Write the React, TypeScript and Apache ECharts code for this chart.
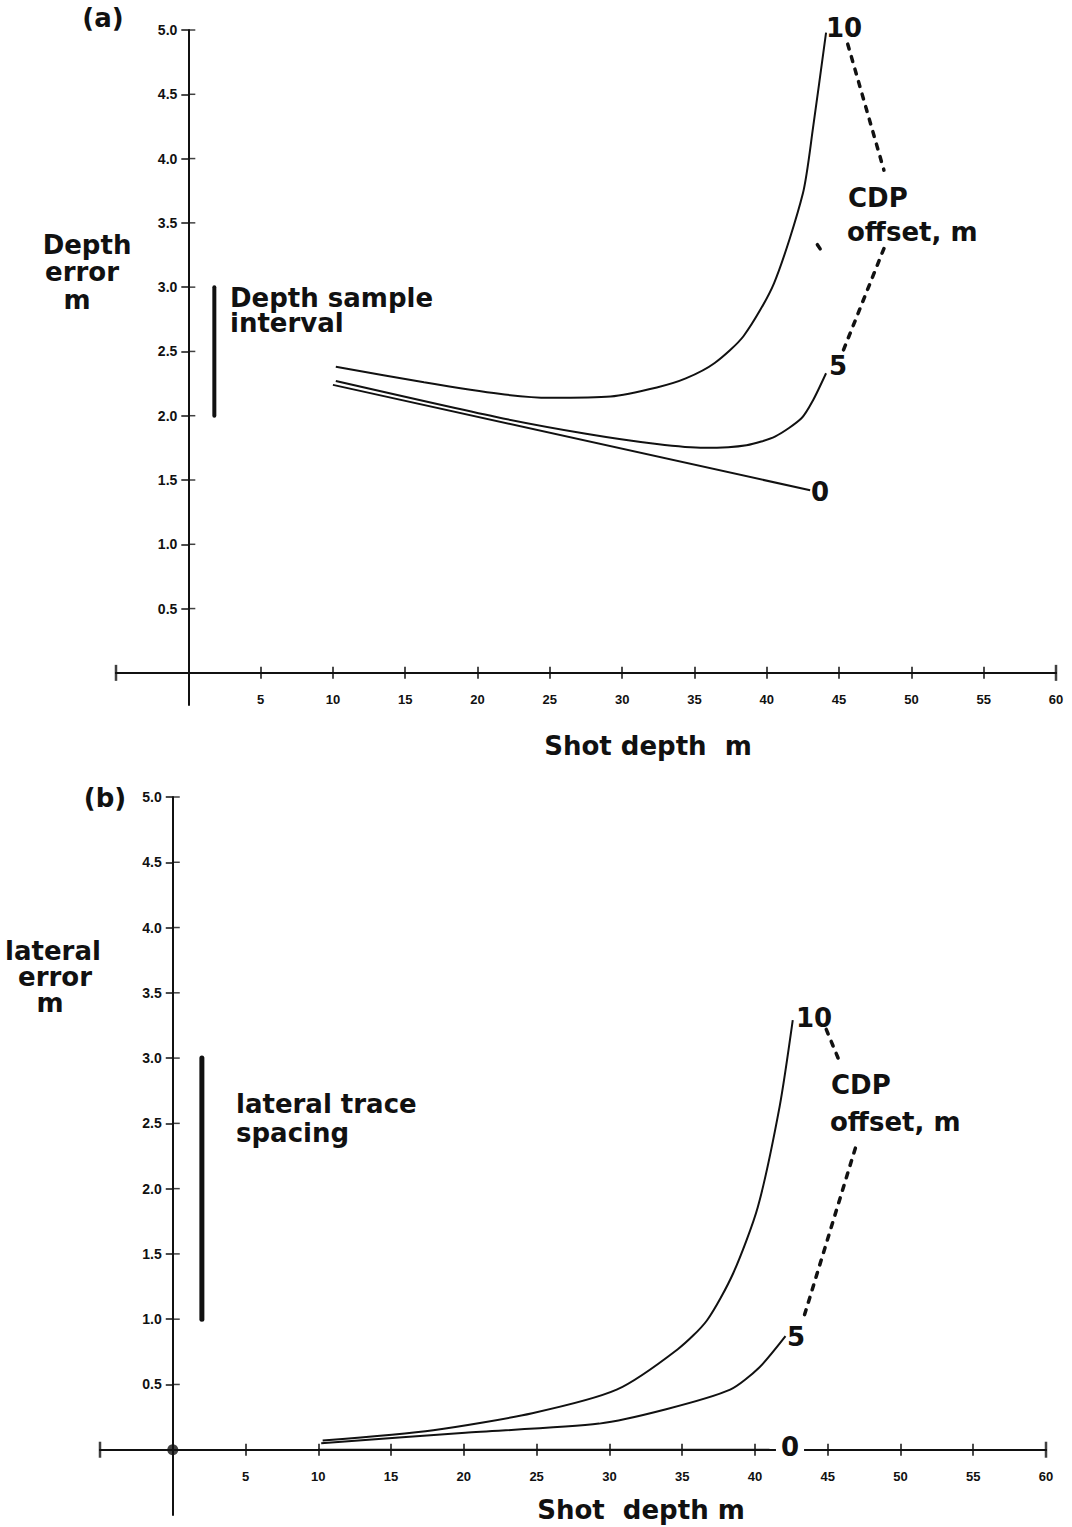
import React, { useEffect, useRef } from "react";
import * as echarts from "echarts";

// ---------- data ----------
const yTickValues = [0.5, 1, 1.5, 2, 2.5, 3, 3.5, 4, 4.5, 5];
const xLabelValues = [5, 10, 15, 20, 25, 30, 35, 40, 45, 50, 55, 60];
const xTickValues = [5, 10, 15, 20, 25, 30, 35, 40, 45, 50, 55];
const axisEnds = [-5, 60];

// panel (a): depth error vs shot depth, per CDP offset
const depthOff0: number[][] = [[10, 2.24], [43, 1.42]];
const depthOff5: number[][] = [
  [10.2, 2.27], [21.3, 1.99], [27.5, 1.86], [32.4, 1.78],
  [35.7, 1.75], [38.6, 1.77], [40.6, 1.84], [42.4, 1.98], [43.2, 2.12], [44.1, 2.33],
];
const depthOff10: number[][] = [
  [10.2, 2.38], [16.3, 2.26], [21.5, 2.17], [25, 2.14], [29.2, 2.15], [32.4, 2.22],
  [34.4, 2.29], [36.4, 2.41], [38.4, 2.62], [40.5, 3.03], [42.5, 3.73], [43.2, 4.24], [44.1, 4.98],
];
const depthDash1: number[][] = [[45.6, 4.89], [48.1, 3.91]];
const depthDash2: number[][] = [[48.1, 3.3], [45.3, 2.51]];
const depthDashBit: number[][] = [[43.5, 3.33], [43.8, 3.28]];
const depthSampleBar: number[][] = [[1.8, 2.0], [1.8, 3.0]];

// panel (b): lateral error vs shot depth, per CDP offset
const latOff0: number[][] = [[10, 0], [41, 0]];
const latOff5: number[][] = [
  [10.2, 0.05], [20.1, 0.13], [29.3, 0.2], [33.9, 0.31], [38.3, 0.46], [40.3, 0.63], [42.1, 0.87],
];
const latOff10: number[][] = [
  [10.3, 0.07], [17.9, 0.15], [24.7, 0.28], [30.5, 0.46], [34.7, 0.77], [36.7, 0.99],
  [38.5, 1.35], [40.2, 1.86], [41.7, 2.63], [42.6, 3.29],
];
const latDash1: number[][] = [[44.9, 3.22], [45.9, 2.95]];
const latDash2: number[][] = [[46.9, 2.31], [43.4, 1.03]];
const traceSpacingBar: number[][] = [[2.0, 1.0], [2.0, 3.0]];
const origin: number[][] = [[0, 0]];

const INK = "#111";
const FONT = "'Liberation Sans', Arial, sans-serif";
const BIG_FONT = "'DejaVu Sans', 'Liberation Sans', sans-serif";

// grid geometry (pixels)
const GA = { left: 116, width: 940, top: 30, height: 675, xMin: -5, xMax: 60, yMin: -0.25, yMax: 5 };
const GB = { left: 100, width: 946, top: 797, height: 718, xMin: -5, xMax: 60, yMin: -0.5, yMax: 5 };

function zeroOffsets(g: typeof GA) {
  const px0 = g.left + ((0 - g.xMin) / (g.xMax - g.xMin)) * g.width;
  const py0 = g.top + ((g.yMax - 0) / (g.yMax - g.yMin)) * g.height;
  return {
    left: -(px0 - g.left),
    top: -(py0 - g.top),
    bottom: -(g.top + g.height - py0),
  };
}

function xAxesFor(gridIndex: number, g: typeof GA) {
  const o = zeroOffsets(g);
  const base = {
    type: "value",
    gridIndex,
    min: g.xMin,
    max: g.xMax,
    splitLine: { show: false },
    axisLine: { show: true, onZero: false, lineStyle: { color: INK, width: 2 } },
    axisTick: { show: true, customValues: xTickValues, length: 6, lineStyle: { color: INK, width: 1.5 } },
  };
  return [
    {
      ...base,
      position: "bottom",
      offset: o.bottom,
      axisLabel: {
        show: true,
        customValues: xLabelValues,
        margin: 20,
        color: INK,
        fontSize: 13,
        fontWeight: "bold",
        fontFamily: FONT,
      },
    },
    {
      ...base,
      position: "top",
      offset: o.top,
      axisLabel: { show: false },
    },
  ];
}

function yAxisFor(gridIndex: number, g: typeof GA) {
  const o = zeroOffsets(g);
  return {
    type: "value",
    gridIndex,
    min: g.yMin,
    max: g.yMax,
    position: "left",
    offset: o.left,
    splitLine: { show: false },
    axisLine: { show: true, onZero: false, lineStyle: { color: INK, width: 2 } },
    axisTick: { show: true, customValues: yTickValues, length: 7, lineStyle: { color: INK, width: 1.5 } },
    axisLabel: {
      show: true,
      customValues: yTickValues,
      margin: 11,
      color: INK,
      fontSize: 14,
      fontWeight: "bold",
      fontFamily: FONT,
      formatter: (v: number) => v.toFixed(1),
    },
  };
}

// right half of the cross-shaped y ticks
function yTickRight(axisX: number, axisY: number) {
  return {
    type: "scatter",
    xAxisIndex: axisX,
    yAxisIndex: axisY,
    data: yTickValues.map((v) => [0, v]),
    symbol: "rect",
    symbolSize: [7, 1.5],
    symbolOffset: [3.5, 0],
    itemStyle: { color: INK },
    silent: true,
    z: 6,
  };
}

function curve(data: number[][], ax: number, ay: number) {
  return {
    type: "line",
    xAxisIndex: ax,
    yAxisIndex: ay,
    data,
    symbol: "none",
    smooth: 0.25,
    lineStyle: { color: INK, width: 2 },
    z: 5,
  };
}

function dashed(data: number[][], ax: number, ay: number) {
  return {
    type: "line",
    xAxisIndex: ax,
    yAxisIndex: ay,
    data,
    symbol: "none",
    lineStyle: { color: INK, width: 3.5, type: [5, 8], cap: "round" },
    z: 5,
  };
}

function bar(data: number[][], ax: number, ay: number, w: number) {
  return {
    type: "line",
    xAxisIndex: ax,
    yAxisIndex: ay,
    data,
    symbol: "none",
    lineStyle: { color: INK, width: w, cap: "round" },
    z: 5,
  };
}

function ends(ax: number, ay: number) {
  return {
    type: "scatter",
    xAxisIndex: ax,
    yAxisIndex: ay,
    data: axisEnds.map((x) => [x, 0]),
    symbol: "rect",
    symbolSize: [2.5, 16],
    itemStyle: { color: INK },
    z: 6,
  };
}

function label(text: string, x: number, y: number, opts: any = {}) {
  return {
    type: "text",
    x,
    y,
    z: 100,
    style: {
      text,
      fill: INK,
      fontFamily: BIG_FONT,
      fontWeight: "bold",
      fontSize: 26,
      align: "center",
      verticalAlign: "middle",
      ...opts,
    },
  };
}

export default function App() {
  const ref = useRef<HTMLDivElement>(null);
  useEffect(() => {
    if (!ref.current) return;
    const chart = echarts.init(ref.current, undefined, { renderer: "svg" });
    const option: any = {
      animation: false,
      backgroundColor: "#fff",
      grid: [
        { left: GA.left, width: GA.width, top: GA.top, height: GA.height, outerBoundsMode: "none" },
        { left: GB.left, width: GB.width, top: GB.top, height: GB.height, outerBoundsMode: "none" },
      ],
      xAxis: [...xAxesFor(0, GA), ...xAxesFor(1, GB)],
      yAxis: [yAxisFor(0, GA), yAxisFor(1, GB)],
      series: [
        curve(depthOff0, 0, 0),
        curve(depthOff5, 0, 0),
        curve(depthOff10, 0, 0),
        dashed(depthDash1, 0, 0),
        dashed(depthDash2, 0, 0),
        dashed(depthDashBit, 0, 0),
        bar(depthSampleBar, 0, 0, 4),
        ends(0, 0),
        yTickRight(0, 0),
        curve(latOff0, 2, 1),
        curve(latOff5, 2, 1),
        curve(latOff10, 2, 1),
        dashed(latDash1, 2, 1),
        dashed(latDash2, 2, 1),
        bar(traceSpacingBar, 2, 1, 5),
        ends(2, 1),
        yTickRight(2, 1),
        {
          type: "scatter",
          xAxisIndex: 2,
          yAxisIndex: 1,
          data: origin,
          symbol: "circle",
          symbolSize: 11,
          itemStyle: { color: INK },
          z: 7,
        },
      ],
      graphic: [
        // panel (a)
        label("(a)", 103, 18),
        label("Depth", 87, 245),
        label("error", 82, 272),
        label("m", 77, 300),
        label("Depth sample", 230, 298, { align: "left" }),
        label("interval", 230, 323, { align: "left" }),
        label("Shot depth  m", 648, 746),
        label("10", 844, 28),
        label("CDP", 848, 198, { align: "left" }),
        label("offset, m", 847, 232, { align: "left" }),
        label("5", 838, 366),
        label("0", 820, 492),
        // panel (b)
        label("(b)", 105, 798),
        label("lateral", 53, 951),
        label("error", 55, 977),
        label("m", 50, 1003),
        label("lateral trace", 236, 1104, { align: "left" }),
        label("spacing", 236, 1133, { align: "left" }),
        label("Shot  depth m", 641, 1510),
        label("10", 814, 1018),
        label("CDP", 831, 1085, { align: "left" }),
        label("offset, m", 830, 1122, { align: "left" }),
        label("5", 796, 1337),
        label("0", 790, 1447, { backgroundColor: "#fff", padding: [0, 5] }),
      ],
    };
    chart.setOption(option);
    return () => chart.dispose();
  }, []);
  return (
    <div
      ref={ref}
      style={{ position: "absolute", left: 0, top: 0, width: 1072, height: 1527, background: "#fff" }}
    />
  );
}
